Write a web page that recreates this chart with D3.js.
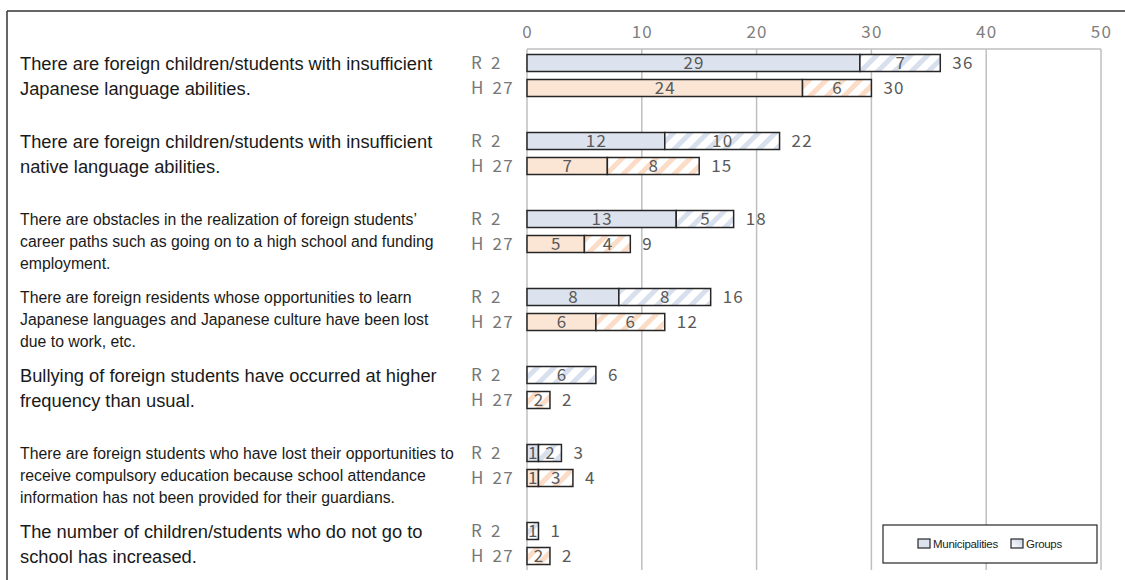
<!DOCTYPE html>
<html><head><meta charset="utf-8">
<script src="https://cdn.jsdelivr.net/npm/d3@7"></script>
<style>
html,body{margin:0;padding:0;background:#fff;}
svg{display:block;}
</style></head>
<body>
<svg id="chart" width="1125" height="580"></svg>
<script>
// ---- data ----
const categories = [
  ["There are foreign children/students with insufficient", "Japanese language abilities."],
  ["There are foreign children/students with insufficient", "native language abilities."],
  ["There are obstacles in the realization of foreign students’", "career paths such as going on to a high school and funding", "employment."],
  ["There are foreign residents whose opportunities to learn", "Japanese languages and Japanese culture have been lost", "due to work, etc."],
  ["Bullying of foreign students have occurred at higher", "frequency than usual."],
  ["There are foreign students who have lost their opportunities to", "receive compulsory education because school attendance", "information has not been provided for their guardians."],
  ["The number of children/students who do not go to", "school has increased."]
];
const periods = ["R 2", "H 27"];
const seriesNames = ["Municipalities", "Groups"];
const municipalitiesR2  = [29, 12, 13, 8, 0, 1, 0];
const groupsR2          = [7, 10, 5, 8, 6, 2, 1];
const municipalitiesH27 = [24, 7, 5, 6, 0, 1, 0];
const groupsH27         = [6, 8, 4, 6, 2, 3, 2];
const xTicks = [0, 10, 20, 30, 40, 50];

// ---- style ----
const labelBig = [true, true, false, false, true, false, true];
const numFont = "'Noto Sans CJK JP', sans-serif";

const svg = d3.select("#chart");
const defs = svg.append("defs");
function hatch(id, color) {
  const p = defs.append("pattern").attr("id", id)
    .attr("patternUnits", "userSpaceOnUse")
    .attr("width", 12).attr("height", 12)
    .attr("patternTransform", "rotate(45)");
  p.append("rect").attr("width", 12).attr("height", 12).attr("fill", "#fff");
  p.append("rect").attr("x", 0).attr("y", 0).attr("width", 5).attr("height", 12).attr("fill", color);
}
hatch("hatchBlue", "#d8e0ee");
hatch("hatchPeach", "#fbdcc6");

const fills = {
  "R 2":  ["#dce3ee", "url(#hatchBlue)"],
  "H 27": ["#fbe5d5", "url(#hatchPeach)"]
};

const x = d3.scaleLinear().domain([0, 50]).range([527, 1101]);
const y0 = d3.scaleBand().domain(d3.range(categories.length)).range([36.5, 582.5]);
const y1 = d3.scalePoint().domain(periods).range([26.5, 51.5]);
const barH = 17;

// outer frame
svg.append("line").attr("x1", 7).attr("x2", 1125).attr("y1", 11).attr("y2", 11)
  .attr("stroke", "#333").attr("stroke-width", 1.5);
svg.append("line").attr("x1", 7).attr("x2", 7).attr("y1", 11).attr("y2", 580)
  .attr("stroke", "#333").attr("stroke-width", 1.5);

// gridlines
const gTop = 49, gBot = 570;
svg.append("line").attr("x1", x(0)).attr("x2", x(50)).attr("y1", gTop).attr("y2", gTop)
  .attr("stroke", "#bfbfbf").attr("stroke-width", 1.5);
svg.append("g").selectAll("line").data(xTicks).join("line")
  .attr("x1", d => x(d)).attr("x2", d => x(d)).attr("y1", gTop).attr("y2", gBot)
  .attr("stroke", "#bfbfbf").attr("stroke-width", 1.5);

// axis labels
const axis = d3.axisTop(x).tickValues(xTicks).tickSize(0).tickPadding(0);
const ax = svg.append("g").attr("transform", "translate(0,38)").call(axis);
ax.select(".domain").remove();
ax.selectAll("text").attr("font-family", numFont)
  .attr("font-size", 17).attr("letter-spacing", "1.2").attr("fill", "#808080");

// rows
const rows = [];
categories.forEach((c, i) => {
  rows.push({cat: i, period: "R 2", m: municipalitiesR2[i], g: groupsR2[i]});
  rows.push({cat: i, period: "H 27", m: municipalitiesH27[i], g: groupsH27[i]});
});

const rowG = svg.append("g").selectAll("g").data(rows).join("g")
  .attr("transform", d => `translate(0,${y0(d.cat) + y1(d.period)})`);

rowG.append("text").attr("x", 471).attr("y", 0).attr("dy", "0.36em")
  .attr("font-family", numFont).attr("font-size", 17)
  .attr("letter-spacing", "1.2").attr("word-spacing", "3")
  .attr("fill", "#777").text(d => d.period);

rowG.each(function(d) {
  const g = d3.select(this);
  const segs = [
    {v: d.m, x0: 0, fill: fills[d.period][0]},
    {v: d.g, x0: d.m, fill: fills[d.period][1]}
  ].filter(s => s.v > 0);
  segs.forEach(s => {
    g.append("rect").attr("x", x(s.x0)).attr("y", -barH / 2)
      .attr("width", x(s.x0 + s.v) - x(s.x0)).attr("height", barH)
      .attr("fill", s.fill).attr("stroke", "#262626").attr("stroke-width", 1.5);
  });
  segs.forEach(s => {
    g.append("text").attr("x", (x(s.x0) + x(s.x0 + s.v)) / 2 + 0.6).attr("y", 0).attr("dy", "0.36em")
      .attr("text-anchor", "middle")
      .attr("font-family", numFont).attr("font-size", 17).attr("letter-spacing", "1.2")
      .attr("fill", "#595959").text(s.v);
  });
  const total = d.m + d.g;
  g.append("text").attr("x", x(total) + 12).attr("y", 0).attr("dy", "0.36em")
    .attr("font-family", numFont).attr("font-size", 17).attr("letter-spacing", "1.2")
    .attr("fill", "#595959").text(total);
});

// category labels
categories.forEach((lines, i) => {
  const big = labelBig[i];
  const t = svg.append("text")
    .attr("font-family", "'Liberation Sans', Arial, sans-serif")
    .attr("font-size", big ? 18.3 : 15.8).attr("fill", "#1a1a1a");
  lines.forEach((ln, k) => {
    t.append("tspan").attr("x", 20)
      .attr("y", y0(i) + y1("R 2") + k * (big ? 25 : 22))
      .attr("dy", "0.36em").text(ln);
  });
});

// legend
const lg = svg.append("g");
lg.append("rect").attr("x", 883).attr("y", 525).attr("width", 214).attr("height", 38)
  .attr("fill", "#fff").attr("stroke", "#262626").attr("stroke-width", 1.2);
const legItems = [
  {name: seriesNames[0], fill: "#dce3ee", x: 918, tx: 933},
  {name: seriesNames[1], fill: "url(#legGrad)", x: 1011, tx: 1026}
];
const lgGrad = defs.append("linearGradient").attr("id", "legGrad")
  .attr("x1", 0).attr("y1", 1).attr("x2", 1).attr("y2", 0);
lgGrad.append("stop").attr("offset", 0).attr("stop-color", "#fff");
lgGrad.append("stop").attr("offset", 1).attr("stop-color", "#c9d4e6");
legItems.forEach(it => {
  lg.append("rect").attr("x", it.x).attr("y", 539).attr("width", 12).attr("height", 9)
    .attr("fill", it.fill).attr("stroke", "#262626").attr("stroke-width", 1.2);
  lg.append("text").attr("x", it.tx).attr("y", 544).attr("dy", "0.36em")
    .attr("font-family", "'Liberation Sans', Arial, sans-serif").attr("font-size", 11.5)
    .attr("letter-spacing", "-0.3").attr("fill", "#222").text(it.name);
});
</script>
</body></html>
